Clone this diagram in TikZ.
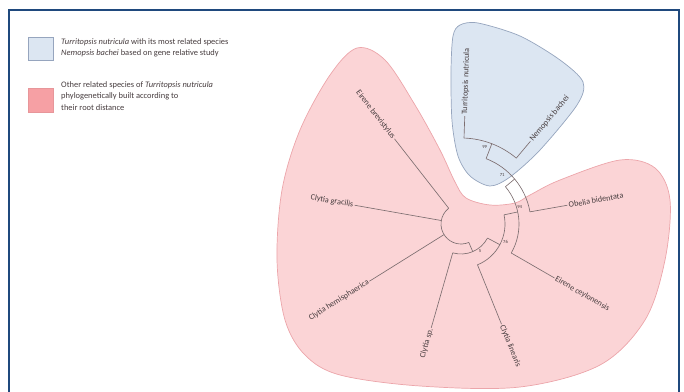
\documentclass[tikz,border=0pt]{standalone}
\usepackage{fontspec}
\setmainfont{Carlito}
\definecolor{frameblue}{RGB}{31,73,125}
\definecolor{cladeblue}{RGB}{220,230,242}
\definecolor{cladeblueln}{RGB}{150,165,190}
\definecolor{cladepink}{RGB}{251,212,214}
\definecolor{cladepinkln}{RGB}{236,165,170}
\definecolor{keypink}{RGB}{246,160,164}
\definecolor{branchgray}{RGB}{125,110,112}
\definecolor{labelgray}{RGB}{70,60,62}
\tikzset{
  treeln/.style={branchgray,line width=0.55pt},
  leaflbl/.style={text=labelgray,font=\fontsize{7}{7.5}\selectfont,inner sep=1pt},
  supportlbl/.style={text=labelgray,font=\fontsize{4}{4.5}\selectfont,inner sep=0.5pt},
  keytext/.style={text=labelgray,font=\fontsize{7.2}{10}\selectfont,align=left,inner sep=0pt},
}
% leaf on the right half / left half of the radial tree
\newcommand{\leafR}[4]{%
  \node[leaflbl,anchor=west,rotate=#2] (#1) at (#2:108) {#4};
  \draw[treeln] (#2:#3) -- (#1.west);}
\newcommand{\leafL}[4]{%
  \node[leaflbl,anchor=east,rotate=#2-180] (#1) at (#2:108) {#4};
  \draw[treeln] (#2:#3) -- (#1.east);}

\begin{document}
\begin{tikzpicture}[x=0.03cm,y=0.03cm]
  \useasboundingbox (0,0) rectangle (684,391);
  \draw[frameblue,line width=2.2pt] (9,-5) -- (9,381) -- (679,381) -- (679,-5);

  % key
  \draw[cladeblueln,fill=cladeblue,line width=0.6pt] (28,331) rectangle (53,354);
  \node[keytext,anchor=north west] (keyblue) at (61,353)
    {\textit{Turritopsis nutricula} with its most related species\\
     \textit{Nemopsis bachei} based on gene relative study};
  \draw[keypink!80!black!30!keypink,fill=keypink,line width=0.6pt] (28,279) rectangle (53,303);
  \node[keytext,anchor=north west] (keypink) at (61,310)
    {Other related species of \textit{Turritopsis nutricula}\\
     phylogenetically built according to\\
     their root distance};

  % clades
  \draw[cladepinkln,fill=cladepink,line width=0.6pt]
    plot[smooth cycle,tension=0.55] coordinates {
      (357,343) (330,316) (300,261) (282,201) (277,131) (285,71) (305,36)
      (340,16) (420,5) (520,4) (600,26) (645,71) (665,131) (670,191)
      (655,223) (620,231) (560,211) (530,196) (515,188) (490,186)
      (466,193) (455,209) (440,241) (415,286) (385,331)};
  \draw[cladeblueln,fill=cladeblue,line width=0.6pt]
    plot[smooth cycle,tension=0.5] coordinates {
      (453,355) (460,366) (478,368) (520,355) (560,331) (583,309)
      (577,286) (540,241) (510,214) (490,205) (470,215) (458,235)
      (452,270) (451,320)};

  \begin{scope}[shift={(461,167)}]
    % arcs of the inner nodes
    \draw[treeln] (128:20) arc[start angle=128,end angle=293,radius=20];
    \draw[treeln] (293:20) -- (293:30);
    \draw[treeln] (254:30) arc[start angle=254,end angle=332,radius=30];
    \draw[treeln] (332:30) -- (332:44);
    \draw[treeln] (292:44) arc[start angle=292,end angle=372,radius=44];
    \draw[treeln] (12:44) -- (12:58);
    \draw[treeln] (-30:58) arc[start angle=-30,end angle=40,radius=58];
    \draw[treeln] (40:58) -- (40:70);
    \draw[treeln] (10:70) arc[start angle=10,end angle=69,radius=70];
    \draw[treeln] (69:70) -- (69:86);
    \draw[treeln] (50:86) arc[start angle=50,end angle=88,radius=86];

    \leafR{turri}{88}{86}{Turritopsis nutricula}
    \leafR{nemop}{50}{86}{Nemopsis bachei}
    \leafR{obeli}{10}{70}{Obelia bidentata}
    \leafR{eceyl}{-30}{58}{Eirene ceylonensis}
    \leafR{clin}{-68}{44}{Clytia linearis}
    \leafL{csp}{254}{30}{Clytia sp.}
    \leafL{chem}{212}{20}{Clytia hemisphaerica}
    \leafL{cgra}{170}{20}{Clytia gracilis}
    \leafL{ebrev}{128}{20}{Eirene brevistylus}

    \node[supportlbl] (s99) at (73:81) {99};
    \node[supportlbl] (s71) at (50:64) {71};
    \node[supportlbl] (s94) at (16:61) {94};
    \node[supportlbl] (s76) at (-22:48) {76};
    \node[supportlbl] (s5) at (-55:33) {5};
  \end{scope}
\end{tikzpicture}
\end{document}
